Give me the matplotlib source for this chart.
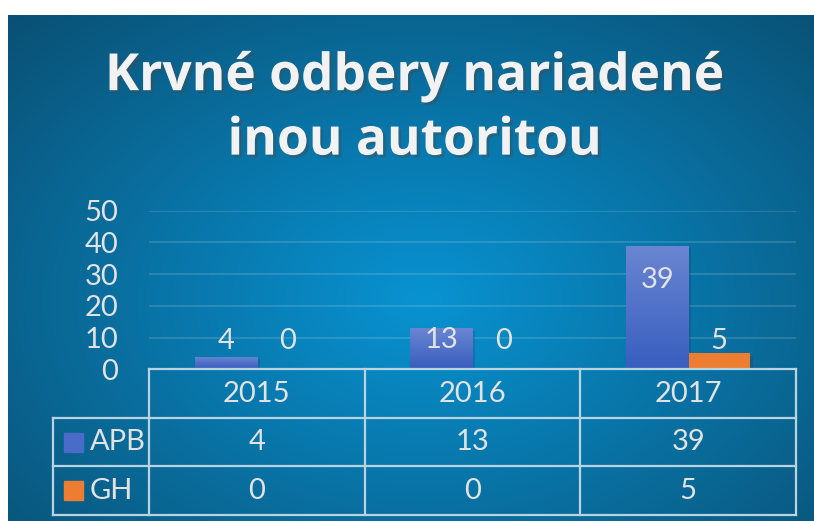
import numpy as np
import matplotlib.pyplot as plt
import matplotlib.patheffects as pe
from matplotlib.patches import Rectangle

# data
years = ['2015', '2016', '2017']
series_names = ['APB', 'GH']
apb = [4, 13, 39]
gh = [0, 0, 5]
y_ticks = [0, 10, 20, 30, 40, 50]
title = 'Krvné odbery nariadené\ninou autoritou'

W, H = 814, 521
TXT = '#e2e2e2'
plt.rcParams['font.family'] = ['Lato', 'DejaVu Sans']

fig = plt.figure(figsize=(W / 100, H / 100), dpi=100)
fig.patch.set_facecolor('white')

# radial blue background
bg = fig.add_axes([8 / W, 0, 1 - 8 / W, 1 - 15 / H])
yy, xx = np.mgrid[0:506, 0:806]
r = np.sqrt(((xx - 415) / 430) ** 2 + ((yy - 285) / 300) ** 2)
t = np.clip(r / 1.35, 0, 1)
c0 = np.array([0x08, 0x93, 0xd2]) / 255
c1 = np.array([0x0a, 0x50, 0x74]) / 255
bg.imshow(c0 + (c1 - c0) * t[..., None], aspect='auto', extent=[0, 1, 0, 1])
bg.axis('off')

# title
fig.text(0.509, 0.79, title, ha='center', va='center', fontsize=37,
         fontweight='bold', family=['Open Sans', 'DejaVu Sans'], color='#f2f2f2',
         linespacing=1.38,
         path_effects=[pe.withSimplePatchShadow(offset=(2, -2), alpha=0.4)])

# plot area
ax = fig.add_axes([149 / W, (H - 369.3) / H, (796 - 149) / W, 158.6 / H])
ax.patch.set_alpha(0)
for s in ax.spines.values():
    s.set_visible(False)
ax.set_xlim(-0.5, 2.5)
ax.set_ylim(0, 50)
ax.set_yticks(y_ticks)
ax.set_xticks([])
ax.tick_params(axis='y', length=0, pad=22, labelsize=21, labelcolor=TXT)
ax.yaxis.grid(True, color='white', alpha=0.15, lw=1.3)
ax.set_axisbelow(True)

x = np.arange(len(years))
w = 0.2875
shadow = [pe.SimplePatchShadow(offset=(2, -2), alpha=0.18), pe.Normal()]
b1 = ax.bar(x - w / 2, apb, w, color='#4a6cc8', zorder=2, path_effects=shadow)
b2 = ax.bar(x + w / 2, gh, w, color='#ed7d31', zorder=2, path_effects=shadow)

# vertical gradient on the blue bars
grad = np.linspace(0, 1, 64)[:, None]
top = np.array([0x6a, 0x86, 0xd2]) / 255
bot = np.array([0x38, 0x5e, 0xbf]) / 255
gimg = (top + (bot - top) * grad[..., None]) * np.ones((64, 2, 3))
for bar in b1:
    im = ax.imshow(gimg, extent=[bar.get_x(), bar.get_x() + bar.get_width(), 0, bar.get_height()],
                   aspect='auto', zorder=2.5)
    im.set_clip_path(bar)
ax.set_xlim(-0.5, 2.5)
ax.set_ylim(0, 50)

# data labels
for bars, vals in ((b1, apb), (b2, gh)):
    for bar, v in zip(bars, vals):
        ax.text(bar.get_x() + bar.get_width() / 2, max(0.72 * v, 8.9), str(v),
                ha='center', va='center', fontsize=21, color=TXT, zorder=3)

# data table under the chart
rh = 15.3
x_leg = (53 - 149) / 215.7 - 0.5
lc = dict(color='#b9d3e0', lw=1.6, clip_on=False, zorder=3)
ax.plot([-0.5, 2.5], [0, 0], **lc)
for k in (1, 2, 3):
    ax.plot([x_leg, 2.5], [-k * rh, -k * rh], **lc)
for xv in (-0.5, 0.5, 1.5, 2.5):
    ax.plot([xv, xv], [0, -3 * rh], **lc)
ax.plot([x_leg, x_leg], [-rh, -3 * rh], **lc)

for i, yr in enumerate(years):
    ax.text(i, -0.5 * rh, yr, ha='center', va='center', fontsize=21, color=TXT, clip_on=False)
    ax.text(i, -1.5 * rh, str(apb[i]), ha='center', va='center', fontsize=21, color=TXT, clip_on=False)
    ax.text(i, -2.5 * rh, str(gh[i]), ha='center', va='center', fontsize=21, color=TXT, clip_on=False)

sq_w = 19 / 215.7
sq_h = 19 / 3.172
for k, (name, col) in enumerate(zip(series_names, ['#4a6cc8', '#ed7d31'])):
    yc = -(1.5 + k) * rh
    ax.add_patch(Rectangle((x_leg + 11 / 215.7, yc - sq_h / 2), sq_w, sq_h,
                           color=col, clip_on=False, zorder=3))
    ax.text(x_leg + 37 / 215.7, yc, name, ha='left', va='center', fontsize=21,
            color=TXT, clip_on=False)

fig.savefig('out.png', dpi=100)
